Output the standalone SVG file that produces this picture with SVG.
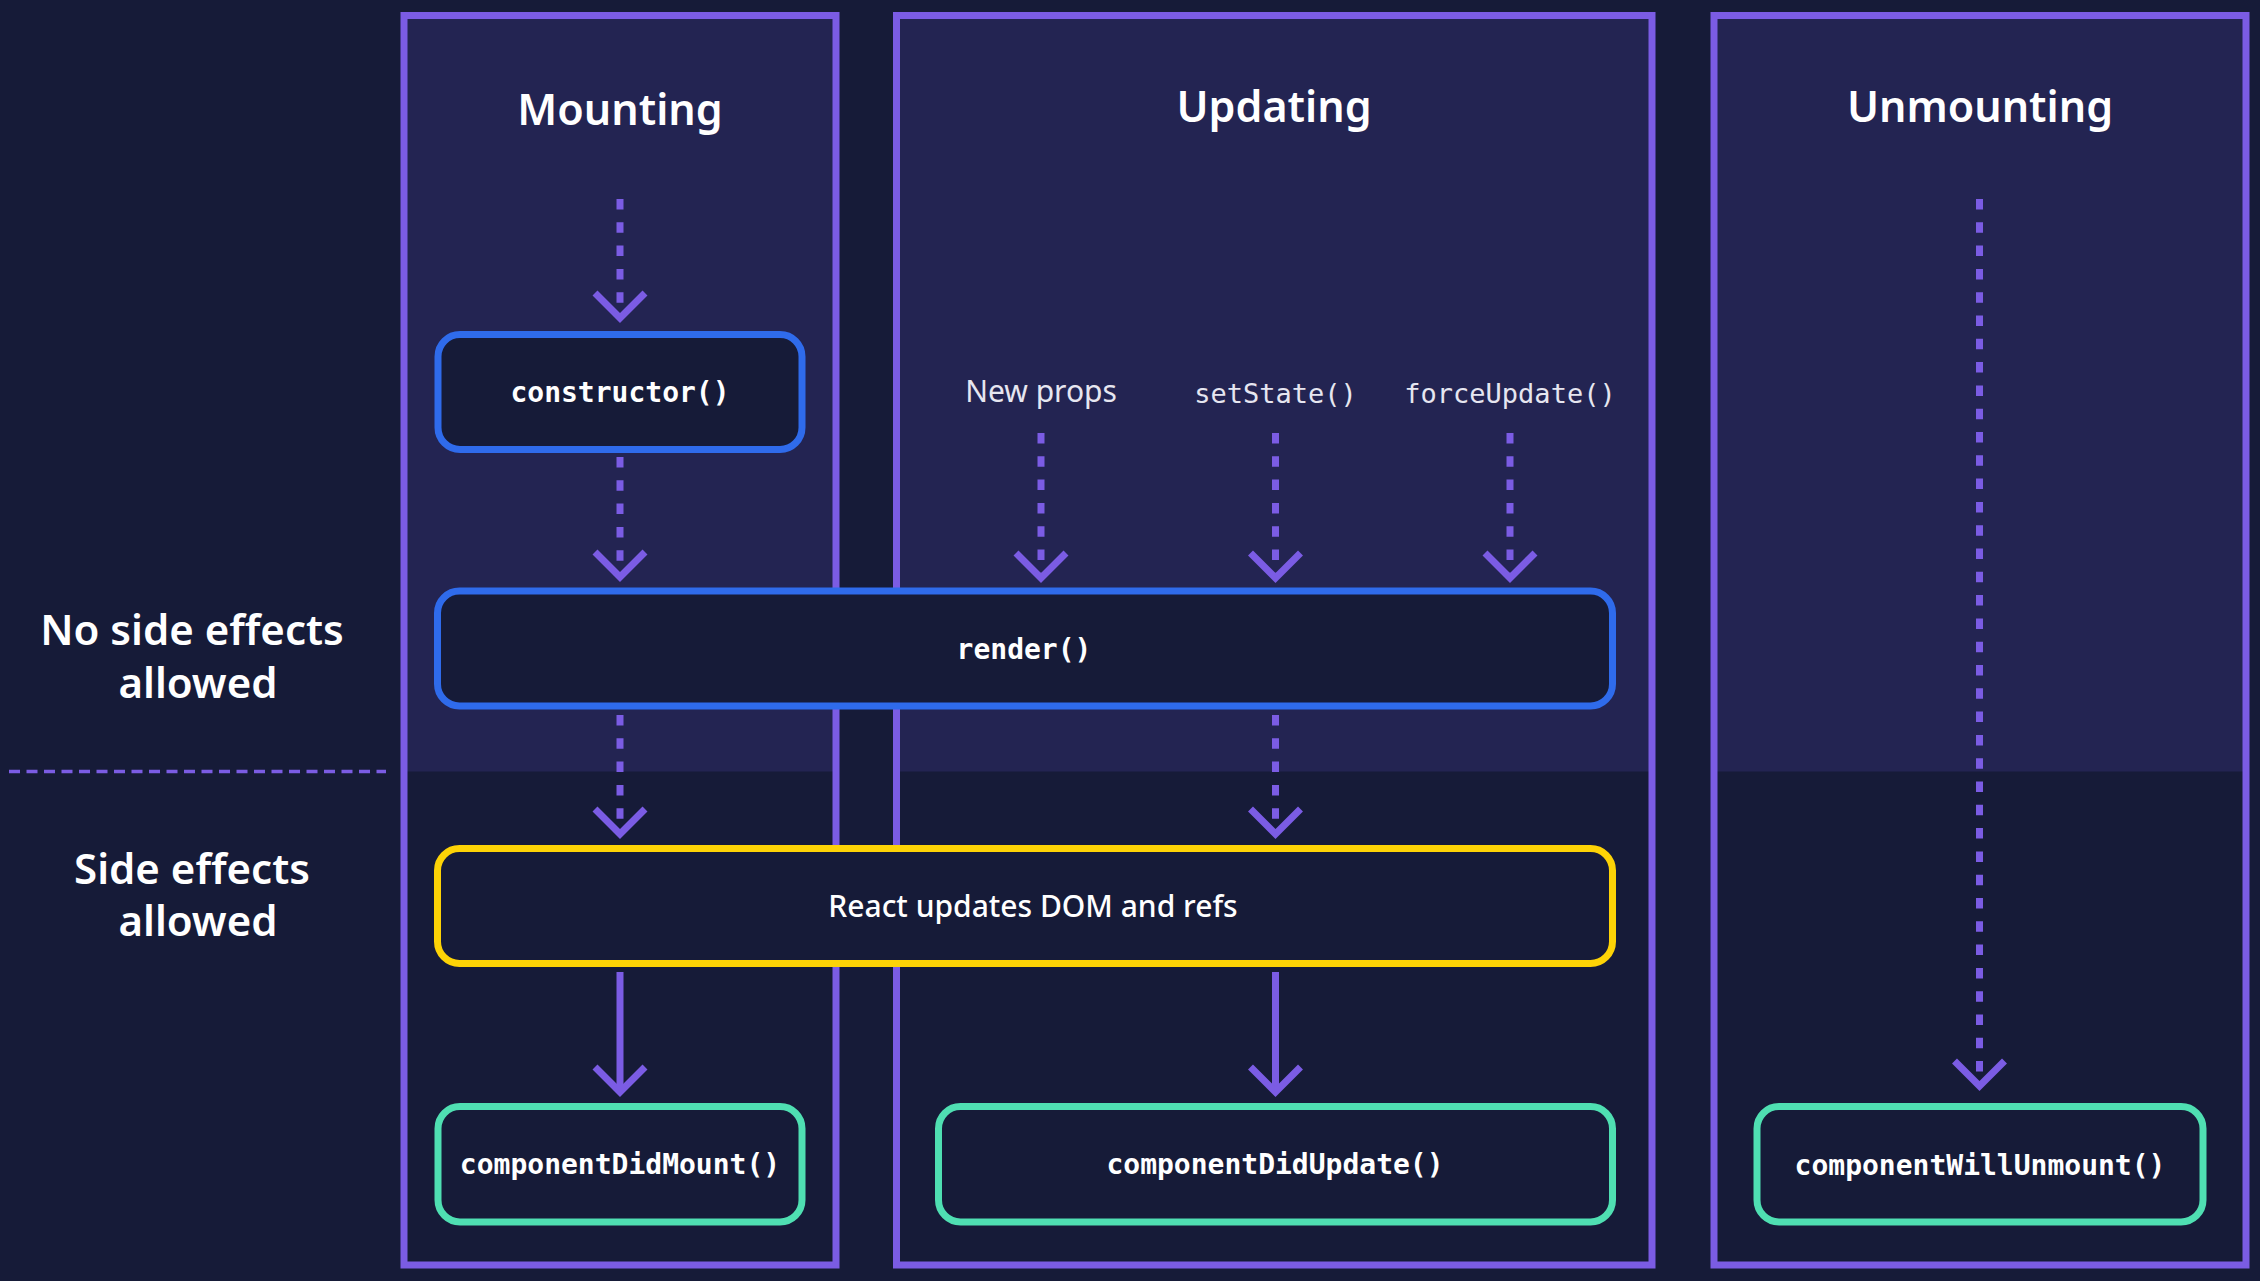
<svg xmlns="http://www.w3.org/2000/svg" width="2260" height="1281" viewBox="0 0 2260 1281">
<defs>
<style>
.bg{fill:#161b38}
.top{fill:#232452}
.panel{fill:none;stroke:#7b5ce4;stroke-width:7}
.box{fill:#161b38;stroke-width:7}
.blue{stroke:#2f6beb}
.yellow{stroke:#fdd306}
.teal{stroke:#4fdfb2}
.title{font-family:"Noto Sans","Open Sans",sans-serif;font-weight:600;font-size:43px;fill:#ffffff;text-anchor:middle}
.side{font-family:"Noto Sans","Open Sans",sans-serif;font-weight:600;font-size:42px;fill:#ffffff;text-anchor:middle}
.mono{font-family:"DejaVu Sans Mono","Liberation Mono",monospace;font-weight:700;font-size:28px;fill:#ffffff;text-anchor:middle}
.monolight{font-family:"DejaVu Sans Mono","Liberation Mono",monospace;font-weight:400;font-size:27px;fill:#e6e6f0;text-anchor:middle}
.label{font-family:"Noto Sans","Open Sans",sans-serif;font-weight:400;font-size:30px;fill:#e6e6f0;text-anchor:middle}
.boxlabel{font-family:"Noto Sans","Open Sans",sans-serif;font-weight:500;font-size:30px;fill:#ffffff;text-anchor:middle}
.dash{fill:none;stroke:#7b5ce4;stroke-width:7;stroke-dasharray:10.5 12.8;marker-end:url(#v)}
.solid{fill:none;stroke:#7b5ce4;stroke-width:7;marker-end:url(#v)}
.divider{fill:none;stroke:#7b5ce4;stroke-width:3.5;stroke-dasharray:11 6.5}
</style>
<marker id="v" markerUnits="userSpaceOnUse" viewBox="-30 -30 60 60" markerWidth="60" markerHeight="60" refX="0" refY="0" orient="auto" overflow="visible">
<path d="M-25,-25 L0,0 L-25,25" fill="none" stroke="#7b5ce4" stroke-width="7" stroke-linejoin="miter"/>
</marker>
</defs>

<rect class="bg" x="0" y="0" width="2260" height="1281"/>

<g id="side-labels">
<text class="side" x="192" y="645">No side effects</text>
<text class="side" x="198" y="698">allowed</text>
<line class="divider" x1="9" y1="771.5" x2="386" y2="771.5"/>
<text class="side" x="192" y="884">Side effects</text>
<text class="side" x="198" y="936">allowed</text>
</g>

<g id="panel-mounting">
<rect class="top" x="404" y="15.5" width="432" height="756"/>
<rect class="panel" x="404" y="15.5" width="432" height="1249.5"/>
<text class="title" x="620" y="125">Mounting</text>
</g>

<g id="panel-updating">
<rect class="top" x="896.5" y="15.5" width="755.5" height="756"/>
<rect class="panel" x="896.5" y="15.5" width="755.5" height="1249.5"/>
<text class="title" x="1274" y="122">Updating</text>
<text class="label" x="1041" y="402">New props</text>
<text class="monolight" x="1275.5" y="403">setState()</text>
<text class="monolight" x="1510" y="403">forceUpdate()</text>
</g>

<g id="panel-unmounting">
<rect class="top" x="1714" y="15.5" width="532" height="756"/>
<rect class="panel" x="1714" y="15.5" width="532" height="1249.5"/>
<text class="title" x="1980" y="122">Unmounting</text>
</g>

<g id="connectors">
<line class="dash" x1="620" y1="199" x2="620" y2="318"/>
<line class="dash" x1="620" y1="457" x2="620" y2="577"/>
<line class="dash" x1="1041" y1="433" x2="1041" y2="578"/>
<line class="dash" x1="1275.5" y1="433" x2="1275.5" y2="578"/>
<line class="dash" x1="1510" y1="433" x2="1510" y2="578"/>
<line class="dash" x1="620" y1="715" x2="620" y2="834"/>
<line class="dash" x1="1275.5" y1="715" x2="1275.5" y2="834"/>
<line class="solid" x1="620" y1="972" x2="620" y2="1092"/>
<line class="solid" x1="1275.5" y1="972" x2="1275.5" y2="1092"/>
<line class="dash" x1="1979.5" y1="199" x2="1979.5" y2="1086"/>
</g>

<g id="node-constructor">
<rect class="box blue" x="438" y="334.5" width="364" height="115" rx="22"/>
<text class="mono" x="620" y="402">constructor()</text>
</g>

<g id="node-render">
<rect class="box blue" x="437.5" y="591" width="1175" height="115" rx="22"/>
<text class="mono" x="1024" y="659">render()</text>
</g>

<g id="node-react-updates">
<rect class="box yellow" x="437.5" y="848.5" width="1175" height="115" rx="22"/>
<text class="boxlabel" x="1033" y="916.5">React updates DOM and refs</text>
</g>

<g id="node-componentDidMount">
<rect class="box teal" x="438" y="1106.5" width="364" height="115.5" rx="22"/>
<text class="mono" x="620" y="1174">componentDidMount()</text>
</g>

<g id="node-componentDidUpdate">
<rect class="box teal" x="938.5" y="1106.5" width="674" height="115.5" rx="22"/>
<text class="mono" x="1275" y="1174">componentDidUpdate()</text>
</g>

<g id="node-componentWillUnmount">
<rect class="box teal" x="1757" y="1106.5" width="446" height="115.5" rx="22"/>
<text class="mono" x="1980" y="1175">componentWillUnmount()</text>
</g>
</svg>
